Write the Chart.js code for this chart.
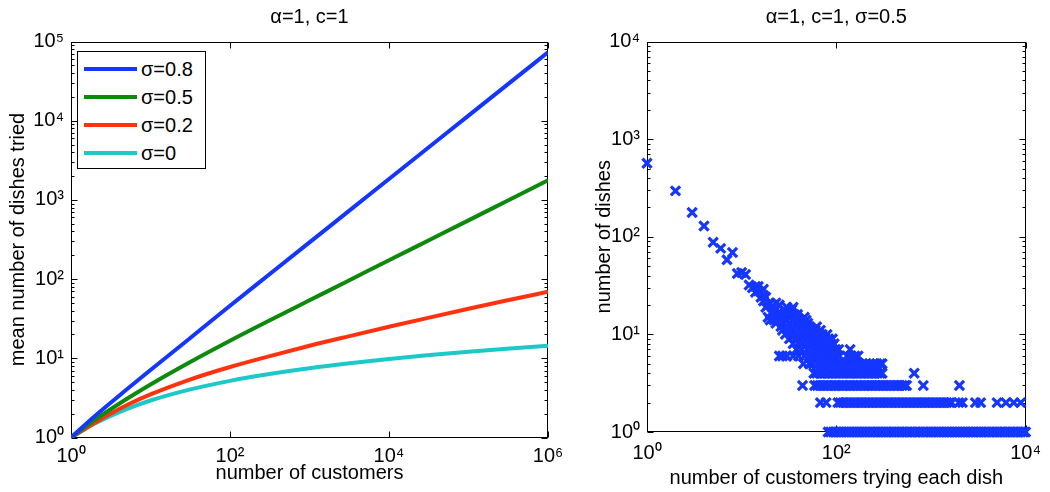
<!DOCTYPE html>
<html>
<head>
<meta charset="utf-8">
<script src="https://cdn.jsdelivr.net/npm/chart.js@4.4.1/dist/chart.umd.min.js"></script>
<style>
  body { margin: 0; background: #fff; overflow: hidden; }
  #page { position: relative; width: 1050px; height: 492px; font-family: 'Liberation Sans', Arial, sans-serif; }
  #leftChart { position: absolute; left: 0; top: 0; }
  #rightChart { position: absolute; left: 560px; top: 0; }
  #legend { position: absolute; left: 77px; top: 51px; width: 127px; height: 116px; border: 1px solid #000; background: #fff; }
  .legend-row { position: absolute; left: 0; height: 24px; display: flex; align-items: center; font-size: 20px; color: #000; }
  .legend-line { width: 53px; height: 4px; margin-left: 6px; margin-right: 4px; }
</style>
</head>
<body>
<div id="page">
  <canvas id="leftChart" width="600" height="492"></canvas>
  <canvas id="rightChart" width="490" height="492"></canvas>
  <div id="legend"></div>
</div>
<script>
// ===== Left panel: mean number of dishes tried (alpha=1, c=1) =====
const customers = [1, 2, 5, 10, 30, 100, 300, 1000, 3000, 1e4, 3e4, 1e5, 3e5, 1e6];
const sigma08 = [1, 1.87, 4.03, 7.11, 17.3, 46.0, 111, 291, 700, 1836, 4420, 11600, 27900, 73100];
const sigma05 = [1, 1.67, 3.06, 4.68, 8.75, 16.7, 29.4, 54.0, 94.0, 173, 301, 552, 962, 1766];
const sigma02 = [1, 1.54, 2.55, 3.50, 5.31, 7.76, 10.5, 14.4, 18.8, 25.0, 32.2, 42.2, 53.6, 69.2];
const sigma0 = [1, 1.5, 2.28, 2.93, 3.99, 5.19, 6.28, 7.49, 8.59, 9.79, 10.9, 12.09, 13.2, 14.39];

const leftXTicks = [1, 1e2, 1e4, 1e6];
const leftYTicks = [1, 10, 100, 1e3, 1e4, 1e5];

// ===== Right panel: dishes vs customers trying each dish (sigma=0.5) =====
// customers-per-dish values shared by exactly 1, 2, ... 6 dishes
const oneDish = [82, 87, 93, 99, 106, 112, 120, 128, 136, 145, 155, 165, 176, 188, 200, 213, 228, 243, 259, 276,
  295, 314, 335, 357, 381, 406, 433, 462, 493, 525, 560, 598, 637, 680, 725, 773, 824, 879, 937, 1000,
  1066, 1137, 1212, 1293, 1379, 1470, 1568, 1672, 1783, 1901, 2028, 2162, 2306, 2459, 2622, 2796, 2982,
  3180, 3391, 3616, 3856, 4112, 4385, 4676, 4987, 5318, 5671, 6047, 6449, 6877, 7333, 7820, 8340, 8893, 9484, 10000];
const twoDishes = [68, 78, 104, 110, 118, 126, 135, 144, 154, 164, 176, 188, 201, 215, 229, 245, 262, 280, 299, 320,
  342, 365, 390, 417, 446, 476, 509, 544, 581, 621, 664, 709, 758, 810, 866, 925, 988, 1056, 1128, 1206,
  1288, 1377, 1471, 1572, 1650, 1970, 2150, 2950, 3350, 5000, 6200, 7500, 8900];
const threeDishes = [44, 59, 63, 67, 72, 77, 82, 88, 94, 100, 107, 115, 122, 131, 140, 150, 160, 171, 183, 196,
  209, 224, 239, 256, 273, 292, 312, 334, 357, 381, 408, 436, 466, 498, 532, 553, 830, 2000];
const fourDishes = [58, 62, 67, 71, 76, 82, 87, 93, 100, 107, 114, 122, 131, 140, 149, 160, 171, 183, 195, 209,
  223, 239, 255, 273, 292, 305, 665];
const fiveDishes = [45, 52, 57, 64, 70, 77, 84, 92, 101, 110, 121, 132, 145, 158, 173, 189, 206, 225, 246, 268, 293, 305];
const sixDishes = [25, 27, 30, 35, 40, 46, 52, 58, 65, 72, 80, 88, 97, 108, 130, 143, 157, 170];

// the rest: popular dishes (few customers each, many dishes)
const tailX = [38, 43, 49, 55, 61, 68, 74, 82, 90, 98, 106, 140,
  35, 40, 45, 51, 57, 64, 71, 79, 87, 95,
  32, 37, 42, 47, 53, 59, 66, 74, 83, 91,
  29, 33, 38, 44, 50, 56, 63, 71, 80,
  27, 31, 35, 41, 47, 53, 60, 68,
  26, 30, 34, 39, 45, 51, 62,
  23, 27, 32, 37, 43, 50,
  20, 22, 25, 29, 35, 41, 48,
  19, 24, 28, 33, 38, 46,
  22, 26, 30, 36, 39,
  21, 25, 32, 23, 28, 34, 18, 21, 30, 35, 19, 25, 20, 23, 17, 16, 18, 17, 14, 16, 15, 17, 13, 14, 15, 12,
  11, 9, 10, 7, 8, 6, 5, 4, 3, 2, 1];
const tailY = [7, 7, 7, 7, 7, 7, 7, 7, 7, 7, 7, 7,
  8, 8, 8, 8, 8, 8, 8, 8, 8, 8,
  9, 9, 9, 9, 9, 9, 9, 9, 9, 9,
  10, 10, 10, 10, 10, 10, 10, 10, 10,
  11, 11, 11, 11, 11, 11, 11, 11,
  12, 12, 12, 12, 12, 12, 12,
  13, 13, 13, 13, 13, 13,
  14, 14, 14, 14, 14, 14, 14,
  15, 15, 15, 15, 15, 15,
  16, 16, 16, 16, 16,
  17, 17, 17, 18, 18, 18, 19, 19, 19, 19, 20, 20, 21, 21, 22, 24, 24, 25, 27, 27, 28, 29, 30, 31, 31, 32,
  41, 42, 43, 58, 69, 76, 88, 129, 177, 295, 566];

const rightXTicks = [1, 1e2, 1e4];
const rightYTicks = [1, 10, 100, 1e3, 1e4];

const FONT = "'Liberation Sans', Arial, sans-serif";
Chart.defaults.font.family = FONT;
Chart.defaults.font.size = 20;
Chart.defaults.color = '#000';

const SUP = ['⁰', '¹', '²', '³', '⁴', '⁵', '⁶'];
function decadeLabel(v) {
  return '10' + SUP[Math.round(Math.log10(v))];
}

function toPoints(xs, ys) {
  return xs.map((x, i) => ({ x, y: ys[i] }));
}

function rowPoints(xs, count) {
  return xs.map(x => ({ x, y: count }));
}

// ===== Box with inward ticks (matlab style) =====
const axesBox = {
  id: 'axesBox',
  beforeDatasetsDraw(chart) {
    const { ctx, chartArea: a, scales } = chart;
    const seg = (x1, y1, x2, y2) => {
      ctx.beginPath();
      ctx.moveTo(x1, y1);
      ctx.lineTo(x2, y2);
      ctx.stroke();
    };
    ctx.save();
    ctx.strokeStyle = '#000';
    ctx.lineWidth = 1;
    const L = Math.round(a.left) + 0.5, R = Math.round(a.right) - 0.5;
    const T = Math.round(a.top) + 0.5, B = Math.round(a.bottom) - 0.5;
    ctx.strokeRect(L, T, R - L, B - T);

    scales.x.ticks.forEach(t => {
      const px = Math.round(scales.x.getPixelForValue(t.value)) + 0.5;
      seg(px, B, px, B - 6);
      seg(px, T, px, T + 6);
    });

    const y = scales.y;
    const lo = Math.round(Math.log10(y.min)), hi = Math.round(Math.log10(y.max));
    for (let k = lo; k <= hi; k++) {
      for (let m = 1; m <= 9; m++) {
        const v = m * Math.pow(10, k);
        if (v > y.max) break;
        const py = Math.round(y.getPixelForValue(v)) + 0.5;
        const len = m === 1 ? 6 : 3;
        seg(L, py, L + len, py);
        seg(R, py, R - len, py);
      }
    }
    ctx.restore();
  }
};

function logAxis(min, max, ticks, size, tickPad, title, titlePad, horizontal) {
  return {
    type: 'logarithmic',
    min: min,
    max: max,
    afterBuildTicks: s => { s.ticks = ticks.map(v => ({ value: v })); },
    afterFit: s => { if (horizontal) s.height = size; else s.width = size; },
    grid: { display: false, drawTicks: false },
    border: { display: false },
    ticks: { callback: decadeLabel, padding: tickPad, autoSkip: false, maxRotation: 0, color: '#000' },
    title: { display: true, text: title, color: '#000', padding: titlePad }
  };
}

// ===== Left chart =====
const lineSeries = [
  { label: 'σ=0.8', values: sigma08, color: '#1436ff' },
  { label: 'σ=0.5', values: sigma05, color: '#0b8a0b' },
  { label: 'σ=0.2', values: sigma02, color: '#ff3210' },
  { label: 'σ=0', values: sigma0, color: '#1cc8c8' }
];

new Chart(document.getElementById('leftChart'), {
  type: 'line',
  data: {
    datasets: lineSeries.map(s => ({
      label: s.label,
      data: toPoints(customers, s.values),
      borderColor: s.color,
      backgroundColor: s.color,
      borderWidth: 4,
      pointRadius: 0,
      cubicInterpolationMode: 'monotone',
      fill: false
    }))
  },
  options: {
    responsive: false,
    animation: false,
    layout: { padding: { left: 0, right: 52, top: 0, bottom: 0 } },
    plugins: {
      legend: { display: false },
      tooltip: { enabled: false },
      title: {
        display: true, text: 'α=1, c=1', fullSize: false, color: '#000',
        font: { size: 20, weight: 'normal' }, padding: { top: 5.5, bottom: 12 }
      }
    },
    scales: {
      x: logAxis(1, 1e6, leftXTicks, 54.5, 7, 'number of customers', { top: 0, bottom: 6.5 }, true),
      y: logAxis(1, 1e5, leftYTicks, 71, 7, 'mean number of dishes tried', { top: 6, bottom: 0 }, false)
    }
  },
  plugins: [axesBox]
});

// legend box (html)
const legendBox = document.getElementById('legend');
lineSeries.forEach((s, i) => {
  const row = document.createElement('div');
  row.className = 'legend-row';
  row.style.top = (5 + i * 28) + 'px';
  row.innerHTML = `<div class="legend-line" style="background:${s.color}"></div><span>${s.label}</span>`;
  legendBox.appendChild(row);
});

// ===== Right chart =====
const scatterPoints = [].concat(
  rowPoints(oneDish, 1),
  rowPoints(twoDishes, 2),
  rowPoints(threeDishes, 3),
  rowPoints(fourDishes, 4),
  rowPoints(fiveDishes, 5),
  rowPoints(sixDishes, 6),
  toPoints(tailX, tailY)
);

new Chart(document.getElementById('rightChart'), {
  type: 'scatter',
  data: {
    datasets: [{
      data: scatterPoints,
      pointStyle: 'crossRot',
      pointRadius: 6.5,
      borderWidth: 3.2,
      borderColor: '#1436ff',
      backgroundColor: '#1436ff',
      clip: false
    }]
  },
  options: {
    responsive: false,
    animation: false,
    layout: { padding: { left: 0, right: 17, top: 0, bottom: 0 } },
    plugins: {
      legend: { display: false },
      tooltip: { enabled: false },
      title: {
        display: true, text: 'α=1, c=1, σ=0.5', fullSize: false, color: '#000',
        font: { size: 20, weight: 'normal' }, padding: { top: 5.5, bottom: 12 }
      }
    },
    scales: {
      x: logAxis(1, 1e4, rightXTicks, 60, 9, 'number of customers trying each dish', { top: 0, bottom: 2 }, true),
      y: logAxis(1, 1e4, rightYTicks, 87, 7, 'number of dishes', { top: 32, bottom: 0 }, false)
    }
  },
  plugins: [axesBox]
});
</script>
</body>
</html>
